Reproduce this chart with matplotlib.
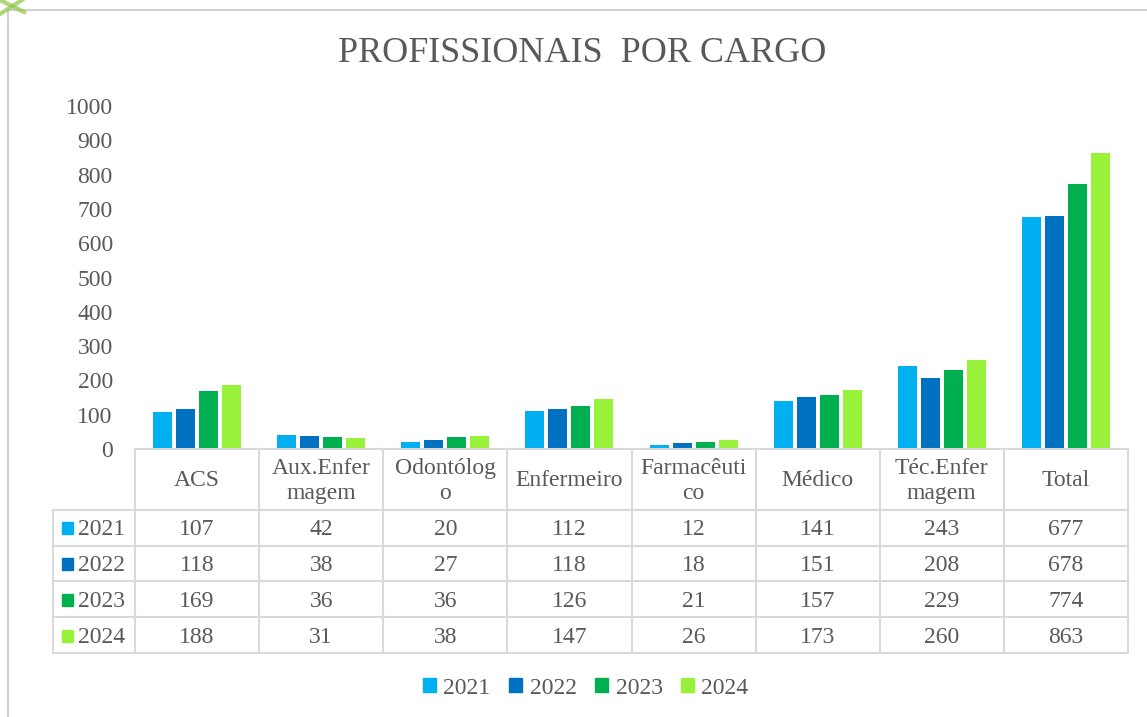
import matplotlib
matplotlib.use("Agg")
import matplotlib.pyplot as plt
from matplotlib.lines import Line2D
from matplotlib.patches import Rectangle
import numpy as np

categories = ["ACS", "Aux.Enfer\nmagem", "Odontólog\no", "Enfermeiro", "Farmacêuti\nco",
              "Médico", "Téc.Enfer\nmagem", "Total"]
years = ["2021", "2022", "2023", "2024"]
v2021 = [107, 42, 20, 112, 12, 141, 243, 677]
v2022 = [118, 38, 27, 118, 18, 151, 208, 678]
v2023 = [169, 36, 36, 126, 21, 157, 229, 774]
v2024 = [188, 31, 38, 147, 26, 173, 260, 863]
series = [v2021, v2022, v2023, v2024]
colors = ["#00B0F0", "#0070C0", "#00B050", "#99F23A"]
yticks = list(range(0, 1001, 100))

plt.rcParams['font.family'] = ['Liberation Serif', 'DejaVu Serif']
TXT = "#595959"
GRID = "#d9d9d9"
FS = 17
W, H = 1147, 717
fig = plt.figure(figsize=(W / 100, H / 100), dpi=100)

def fx(px):
    return px / W

def fy(py):
    return 1 - py / H

# chart border
fig.add_artist(Line2D([fx(8), fx(1147)], [fy(10), fy(10)], color="#d0d0d0", lw=1.5))
fig.add_artist(Line2D([fx(8), fx(8)], [fy(10), fy(717)], color="#d0d0d0", lw=1.5))
fig.add_artist(Line2D([fx(0), fx(24)], [fy(0), fy(12)], color="#8cc63f", lw=3, alpha=0.7))
fig.add_artist(Line2D([fx(0), fx(22)], [fy(14), fy(0)], color="#8cc63f", lw=3, alpha=0.7))

# bar axes
left, right, top, bottom = 135, 1128, 106, 449
ax = fig.add_axes([fx(left), fy(bottom), fx(right - left), (bottom - top) / H])
n = len(categories)
x = np.arange(n)
bw = 0.153
step = 0.185
for i, (vals, c) in enumerate(zip(series, colors)):
    ax.bar(x + (i - 1.5) * step, vals, width=bw, color=c, label=years[i])
ax.set_xlim(-0.5, n - 0.5)
ax.set_ylim(0, 1000)
ax.set_yticks(yticks)
ax.set_yticklabels([str(t) for t in yticks], fontsize=FS, color=TXT)
ax.tick_params(axis='y', length=0, pad=16)
ax.set_xticks([])
for s in ax.spines.values():
    s.set_visible(False)

fig.text(fx(582), fy(54), "PROFISSIONAIS  POR CARGO", ha="center", va="center",
         fontsize=26, color=TXT)

# data table axes
tl, tr, tt, tb = 53, 1128, 449, 653
tax = fig.add_axes([fx(tl), fy(tb), fx(tr - tl), (tb - tt) / H])
lab_w = (135 - 53) / ((right - left) / n)
header_h = 61 / 36.
x0 = -0.5 - lab_w
tax.set_xlim(x0, n - 0.5)
tax.set_ylim(header_h + 4, 0)
tax.axis("off")
lw = 1.5
tax.plot([-0.5, n - 0.5], [0, 0], color=GRID, lw=lw, clip_on=False)
for r in range(5):
    yy = header_h + r
    tax.plot([x0, n - 0.5], [yy, yy], color=GRID, lw=lw, clip_on=False)
tax.plot([x0, x0], [header_h, header_h + 4], color=GRID, lw=lw, clip_on=False)
for c in range(n + 1):
    xx = c - 0.5
    tax.plot([xx, xx], [0, header_h + 4], color=GRID, lw=lw, clip_on=False)
for c, cat in enumerate(categories):
    tax.text(c, header_h / 2 + 0.04, cat, ha="center", va="center", fontsize=FS,
             color=TXT, linespacing=1.25)
for r, (vals, col, yr) in enumerate(zip(series, colors, years)):
    yc = header_h + r + 0.5
    for c, v in enumerate(vals):
        tax.text(c, yc + 0.06, str(v), ha="center", va="center", fontsize=FS, color=TXT)
    tax.add_patch(Rectangle((x0 + 0.07, yc - 0.15), 0.092, 0.33, color=col, clip_on=False))
    tax.text(x0 + 0.2, yc + 0.06, yr, ha="left", va="center", fontsize=FS, color=TXT)

handles = [Rectangle((0, 0), 1, 1, color=c) for c in colors]
fig.legend(handles, years, loc="center", bbox_to_anchor=(fx(586), fy(688)), ncol=4,
           frameon=False, fontsize=FS, labelcolor=TXT, handlelength=0.55, handleheight=0.55,
           handletextpad=0.3, columnspacing=0.8)

fig.savefig("out.png", dpi=100)
